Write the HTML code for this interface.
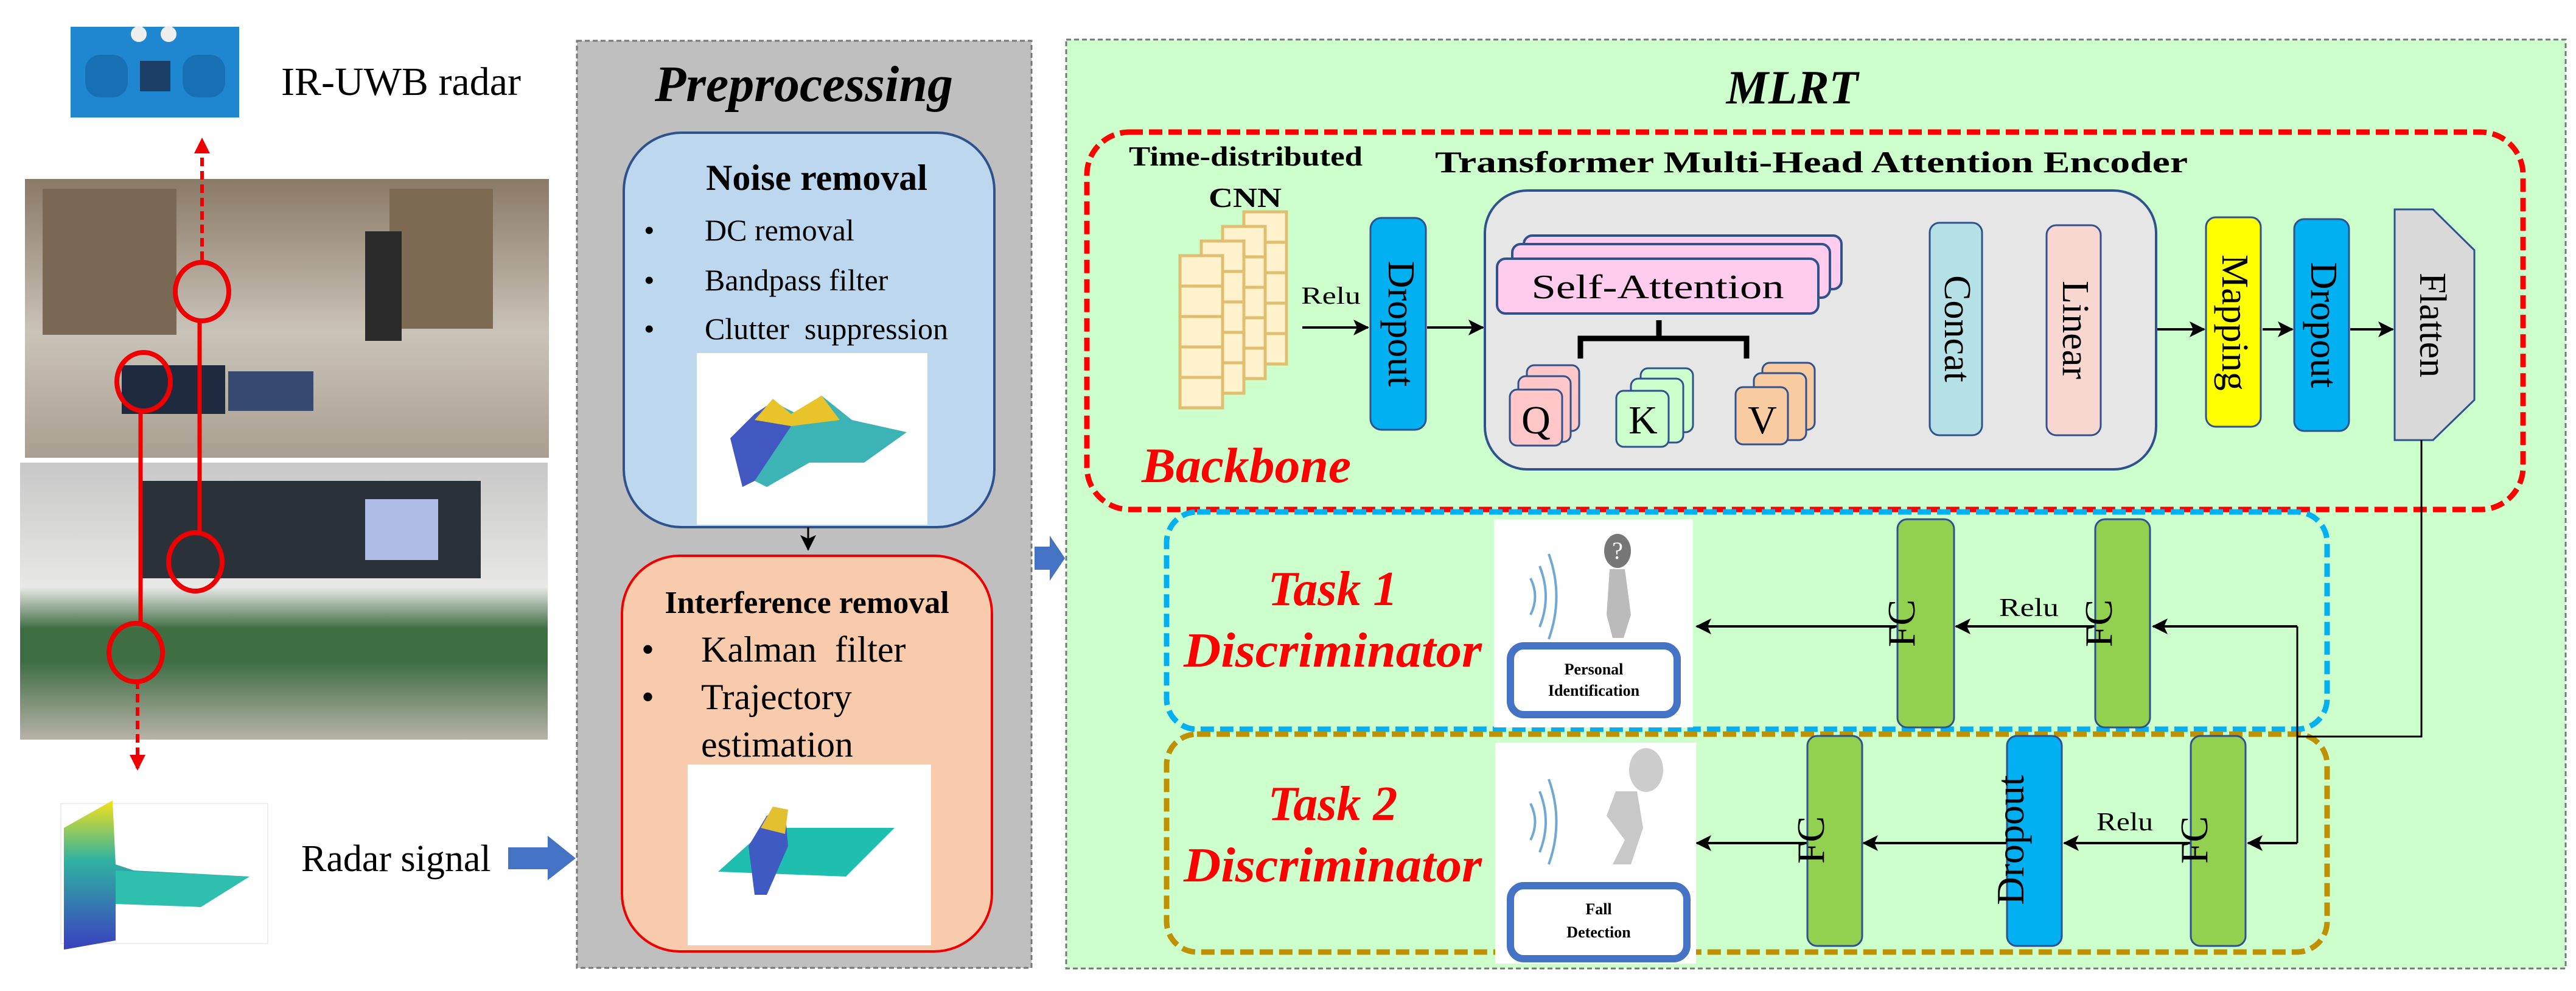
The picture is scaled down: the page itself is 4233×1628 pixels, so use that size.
<!DOCTYPE html>
<html><head><meta charset="utf-8"><style>
html,body{margin:0;padding:0;background:#fff;}
svg{display:block;}
text{font-family:"Liberation Serif",serif;}
</style></head><body>
<svg width="4233" height="1628" viewBox="0 0 4233 1628" xmlns="http://www.w3.org/2000/svg">
<defs>
<marker id="ahb" markerWidth="26" markerHeight="26" refX="24" refY="13" orient="auto" markerUnits="userSpaceOnUse" viewBox="0 0 26 26"><path d="M0,0 L26,13 L0,26 L6,13 z" fill="#000"/></marker>
<marker id="ahr" markerWidth="26" markerHeight="26" refX="22" refY="13" orient="auto" markerUnits="userSpaceOnUse" viewBox="0 0 26 26"><path d="M0,0 L26,13 L0,26 z" fill="#e00"/></marker>
<linearGradient id="ph1" x1="0" y1="0" x2="0" y2="1"><stop offset="0" stop-color="#8a7a66"/><stop offset="0.55" stop-color="#c9c3b8"/><stop offset="1" stop-color="#a89f90"/></linearGradient>
<linearGradient id="ph2" x1="0" y1="0" x2="0" y2="1"><stop offset="0" stop-color="#c8c8c8"/><stop offset="0.45" stop-color="#e8e8e6"/><stop offset="0.6" stop-color="#3f6e43"/><stop offset="0.72" stop-color="#3f6e43"/><stop offset="1" stop-color="#b8b2a8"/></linearGradient>
<linearGradient id="surf" x1="0" y1="0" x2="0" y2="1"><stop offset="0" stop-color="#f5e11a"/><stop offset="0.4" stop-color="#2fb3a0"/><stop offset="1" stop-color="#3b3fc0"/></linearGradient>
</defs>

<rect x="116" y="44" width="277" height="149" fill="#1f87cf"/>
<circle cx="228" cy="56" r="13" fill="#eee"/><circle cx="277" cy="56" r="13" fill="#eee"/>
<rect x="140" y="90" width="70" height="70" rx="25" fill="#1670b3"/><rect x="300" y="90" width="70" height="70" rx="25" fill="#1670b3"/>
<rect x="230" y="100" width="50" height="50" fill="#1b3f66"/>
<text x="462" y="156" font-size="66">IR-UWB radar</text>

<rect x="41" y="294" width="861" height="458" fill="url(#ph1)"/>
<rect x="70" y="310" width="220" height="240" fill="#7a6a55"/>
<rect x="640" y="310" width="170" height="230" fill="#7d6a52"/>
<rect x="200" y="600" width="170" height="80" fill="#1e2a3f"/>
<rect x="375" y="610" width="140" height="65" fill="#364a70"/>
<rect x="600" y="380" width="60" height="180" fill="#2a2a2a"/>
<rect x="33" y="760" width="867" height="455" fill="url(#ph2)"/>
<rect x="230" y="790" width="560" height="160" fill="#2b3138"/>
<rect x="600" y="820" width="120" height="100" fill="#aebbe6"/>

<line x1="332" y1="427" x2="332" y2="230" stroke="#e00" stroke-width="6" stroke-dasharray="14,8" marker-end="url(#ahr)"/>
<line x1="226" y1="1118" x2="226" y2="1262" stroke="#e00" stroke-width="6" stroke-dasharray="14,8" marker-end="url(#ahr)"/>
<line x1="328" y1="525" x2="328" y2="880" stroke="#e00" stroke-width="7"/>
<line x1="231" y1="672" x2="231" y2="1028" stroke="#e00" stroke-width="7"/>
<g fill="none" stroke="#e00" stroke-width="8">
<ellipse cx="332" cy="479" rx="44" ry="48"/><ellipse cx="236" cy="627" rx="44" ry="48"/>
<ellipse cx="321" cy="923" rx="44" ry="48"/><ellipse cx="223" cy="1072" rx="44" ry="48"/></g>

<g stroke="#ddd" stroke-width="1" fill="none"><rect x="100" y="1320" width="340" height="230"/></g>
<polygon points="105,1360 185,1315 190,1420 220,1430 410,1440 330,1490 190,1480 190,1545 105,1560" fill="url(#surf)"/>
<polygon points="190,1430 410,1440 330,1490 190,1485" fill="#2fbfae"/>
<text x="495" y="1431" font-size="62">Radar signal</text>
<polygon points="835,1392 900,1392 900,1373 946,1410 900,1446 900,1428 835,1428" fill="#4472c4"/>

<rect x="948" y="67" width="747" height="1523" fill="#bfbfbf" stroke="#777" stroke-width="3" stroke-dasharray="8,5"/>
<text x="1321" y="166" font-size="84" font-weight="bold" font-style="italic" text-anchor="middle">Preprocessing</text>
<rect x="1025" y="218" width="609" height="648" rx="95" fill="#bdd7ee" stroke="#2f528f" stroke-width="4"/>
<text x="1342" y="312" font-size="60" font-weight="bold" text-anchor="middle">Noise removal</text>
<g font-size="50"><text x="1058" y="395">•</text><text x="1158" y="395">DC removal</text>
<text x="1058" y="477">•</text><text x="1158" y="477">Bandpass filter</text>
<text x="1058" y="557">•</text><text x="1158" y="557">Clutter&#160; suppression</text></g>
<rect x="1145" y="580" width="379" height="282" fill="#fff"/>
<polygon points="1200,720 1230,690 1270,660 1310,680 1350,650 1400,690 1490,710 1420,760 1330,760 1260,800 1220,780" fill="#3cb3b5"/>
<polygon points="1200,720 1240,680 1270,660 1300,700 1240,790 1220,800" fill="#4158c0"/>
<polygon points="1240,690 1270,655 1300,680 1350,650 1380,690 1300,700" fill="#e8c42a"/>
<line x1="1328" y1="866" x2="1328" y2="903" stroke="#000" stroke-width="3" marker-end="url(#ahb)"/>
<rect x="1022" y="913" width="608" height="650" rx="95" fill="#f8cbad" stroke="#e00" stroke-width="4"/>
<text x="1326" y="1007" font-size="52" font-weight="bold" text-anchor="middle">Interference removal</text>
<g font-size="60"><text x="1054" y="1087">•</text><text x="1152" y="1087">Kalman&#160; filter</text>
<text x="1054" y="1165">•</text><text x="1152" y="1165">Trajectory</text>
<text x="1152" y="1243">estimation</text></g>
<rect x="1130" y="1256" width="400" height="297" fill="#fff"/>
<polygon points="1180,1432 1260,1360 1470,1360 1390,1440" fill="#1ebfae"/>
<polygon points="1230,1390 1260,1340 1290,1330 1295,1390 1260,1470 1240,1470" fill="#3f5ac3"/>
<polygon points="1250,1360 1270,1325 1295,1330 1290,1370" fill="#e2c030"/>

<polygon points="1700,898 1725,898 1725,880 1750,917 1725,954 1725,936 1700,936" fill="#4472c4"/>

<rect x="1752" y="65" width="2464" height="1526" fill="#ccffcc" stroke="#777" stroke-width="3" stroke-dasharray="8,5"/>
<text x="2945" y="170" font-size="78" font-weight="bold" font-style="italic" text-anchor="middle">MLRT</text>
<rect x="1786" y="217" width="2360" height="620" rx="70" fill="none" stroke="#f00" stroke-width="9" stroke-dasharray="22,10"/>
<text x="1855" y="272" font-size="46" font-weight="bold" textLength="384" lengthAdjust="spacingAndGlyphs">Time-distributed</text>
<text x="1986" y="340" font-size="46" font-weight="bold" textLength="120" lengthAdjust="spacingAndGlyphs">CNN</text>
<text x="2358" y="283" font-size="50" font-weight="bold" textLength="1237" lengthAdjust="spacingAndGlyphs">Transformer Multi-Head Attention Encoder</text>
<text x="1876" y="792" font-size="82" font-weight="bold" font-style="italic" fill="#f00" textLength="344" lengthAdjust="spacingAndGlyphs">Backbone</text>

<g fill="#fff2cc" stroke="#e0c070" stroke-width="5">
<g transform="translate(105,-72)"><rect x="1939" y="420" width="70" height="50"/><rect x="1939" y="470" width="70" height="50"/><rect x="1939" y="520" width="70" height="50"/><rect x="1939" y="570" width="70" height="50"/><rect x="1939" y="620" width="70" height="50"/></g>
<g transform="translate(70,-48)"><rect x="1939" y="420" width="70" height="50"/><rect x="1939" y="470" width="70" height="50"/><rect x="1939" y="520" width="70" height="50"/><rect x="1939" y="570" width="70" height="50"/><rect x="1939" y="620" width="70" height="50"/></g>
<g transform="translate(35,-24)"><rect x="1939" y="420" width="70" height="50"/><rect x="1939" y="470" width="70" height="50"/><rect x="1939" y="520" width="70" height="50"/><rect x="1939" y="570" width="70" height="50"/><rect x="1939" y="620" width="70" height="50"/></g>
<rect x="1939" y="420" width="70" height="50"/><rect x="1939" y="470" width="70" height="50"/><rect x="1939" y="520" width="70" height="50"/><rect x="1939" y="570" width="70" height="50"/><rect x="1939" y="620" width="70" height="50"/>
</g>
<text x="2138" y="499" font-size="40" textLength="98" lengthAdjust="spacingAndGlyphs">Relu</text>
<g stroke="#000" stroke-width="4" marker-end="url(#ahb)">
<line x1="2140" y1="538" x2="2248" y2="538"/>
<line x1="2345" y1="538" x2="2437" y2="538"/>
<line x1="3043" y1="541" x2="3168" y2="541"/>
<line x1="3260" y1="541" x2="3360" y2="541"/>
<line x1="3543" y1="541" x2="3622" y2="541"/>
<line x1="3718" y1="541" x2="3767" y2="541"/>
<line x1="3862" y1="541" x2="3932" y2="541"/>
</g>
<rect x="2252" y="358" width="91" height="348" rx="18" fill="#00b0f0" stroke="#2f528f" stroke-width="3"/>
<text transform="translate(2282,532) rotate(90)" font-size="62" text-anchor="middle">Dropout</text>

<rect x="2440" y="313" width="1103" height="458" rx="70" fill="#e6e6e6" stroke="#2f528f" stroke-width="4"/>
<g fill="#ffccee" stroke="#2f528f" stroke-width="4">
<rect x="2504" y="387" width="522" height="88" rx="14"/>
<rect x="2485" y="401" width="522" height="88" rx="14"/>
<rect x="2460" y="425" width="528" height="90" rx="14"/></g>
<text x="2724" y="490" font-size="56" text-anchor="middle" textLength="415" lengthAdjust="spacingAndGlyphs">Self-Attention</text>
<path d="M2726,526 V556 M2597,589 V556 H2870 V589" fill="none" stroke="#000" stroke-width="9"/>
<g stroke="#2f528f" stroke-width="3">
<g fill="#ffc7c7"><rect x="2509" y="600" width="86" height="108" rx="12"/><rect x="2495" y="618" width="86" height="108" rx="12"/><rect x="2481" y="640" width="86" height="92" rx="12"/></g>
<g fill="#ccffcc"><rect x="2696" y="605" width="86" height="105" rx="12"/><rect x="2680" y="622" width="86" height="105" rx="12"/><rect x="2656" y="642" width="86" height="92" rx="12"/></g>
<g fill="#f8cba0"><rect x="2896" y="596" width="86" height="110" rx="12"/><rect x="2882" y="613" width="86" height="110" rx="12"/><rect x="2852" y="636" width="86" height="94" rx="12"/></g>
</g>
<g font-size="66"><text x="2524" y="712" text-anchor="middle">Q</text><text x="2700" y="712" text-anchor="middle">K</text><text x="2896" y="712" text-anchor="middle">V</text></g>

<rect x="3171" y="366" width="86" height="349" rx="16" fill="#b4e0e6" stroke="#2f528f" stroke-width="3"/>
<text transform="translate(3196,540) rotate(90)" font-size="62" text-anchor="middle">Concat</text>
<rect x="3363" y="370" width="89" height="345" rx="16" fill="#f8d7d0" stroke="#2f528f" stroke-width="3"/>
<text transform="translate(3390,542) rotate(90)" font-size="62" text-anchor="middle">Linear</text>
<rect x="3625" y="357" width="90" height="344" rx="16" fill="#ffff00" stroke="#2f528f" stroke-width="3"/>
<text transform="translate(3652,530) rotate(90)" font-size="62" text-anchor="middle">Mapping</text>
<rect x="3770" y="360" width="90" height="348" rx="16" fill="#00b0f0" stroke="#2f528f" stroke-width="3"/>
<text transform="translate(3798,534) rotate(90)" font-size="62" text-anchor="middle">Dropout</text>
<polygon points="3935,344 3998,344 4066,411 4066,657 3998,723 3935,723" fill="#d9d9d9" stroke="#2f528f" stroke-width="3"/>
<text transform="translate(3977,534) rotate(90)" font-size="62" text-anchor="middle">Flatten</text>

<rect x="1917" y="841" width="1907" height="357" rx="50" fill="none" stroke="#00b0f0" stroke-width="9" stroke-dasharray="22,10"/>
<rect x="1917" y="1206" width="1907" height="358" rx="50" fill="none" stroke="#bf9000" stroke-width="9" stroke-dasharray="22,10"/>

<polyline points="3979,723 3979,1210 3775,1210" fill="none" stroke="#000" stroke-width="3"/>
<line x1="3775" y1="1029" x2="3775" y2="1385" stroke="#000" stroke-width="3"/>
<g stroke="#000" stroke-width="4" marker-end="url(#ahb)">
<line x1="3775" y1="1029" x2="3538" y2="1029"/>
<line x1="3443" y1="1029" x2="3214" y2="1029"/>
<line x1="3118" y1="1029" x2="2788" y2="1029"/>
<line x1="3775" y1="1385" x2="3694" y2="1385"/>
<line x1="3600" y1="1385" x2="3392" y2="1385"/>
<line x1="3298" y1="1385" x2="3062" y2="1385"/>
<line x1="2970" y1="1385" x2="2788" y2="1385"/>
</g>

<g font-weight="bold" font-style="italic" fill="#f00" text-anchor="middle">
<text x="2190" y="994" font-size="80">Task 1</text>
<text x="2190" y="1095" font-size="80" textLength="490" lengthAdjust="spacingAndGlyphs">Discriminator</text>
<text x="2190" y="1347" font-size="80">Task 2</text>
<text x="2190" y="1448" font-size="80" textLength="490" lengthAdjust="spacingAndGlyphs">Discriminator</text>
</g>

<rect x="2455" y="853" width="327" height="342" fill="#fff"/>
<g fill="none" stroke="#6fa8d6" stroke-width="4"><path d="M2530,930 Q2550,980 2530,1030"/><path d="M2545,910 Q2570,980 2545,1050"/><path d="M2515,950 Q2530,980 2515,1010"/></g>
<ellipse cx="2658" cy="905" rx="22" ry="28" fill="#777"/><text x="2658" y="918" font-size="40" text-anchor="middle" fill="#fff">?</text>
<path d="M2645,935 L2670,935 L2680,1010 L2668,1048 L2650,1048 L2640,1010z" fill="#bbb"/>
<rect x="2482" y="1061" width="274" height="113" rx="22" fill="#fff" stroke="#4472c4" stroke-width="12"/>
<text x="2619" y="1108" font-size="26" font-weight="bold" text-anchor="middle">Personal</text>
<text x="2619" y="1143" font-size="26" font-weight="bold" text-anchor="middle">Identification</text>

<rect x="2457" y="1220" width="330" height="363" fill="#fff"/>
<g fill="none" stroke="#6fa8d6" stroke-width="4"><path d="M2530,1300 Q2550,1350 2530,1400"/><path d="M2545,1280 Q2570,1350 2545,1420"/><path d="M2515,1320 Q2530,1350 2515,1380"/></g>
<ellipse cx="2705" cy="1265" rx="28" ry="36" fill="#ccc"/>
<path d="M2690,1300 L2700,1360 L2680,1420 L2650,1420 L2670,1380 L2640,1340 L2655,1300z" fill="#c8c8c8"/>
<rect x="2482" y="1455" width="290" height="120" rx="22" fill="#fff" stroke="#4472c4" stroke-width="12"/>
<text x="2627" y="1502" font-size="26" font-weight="bold" text-anchor="middle">Fall</text>
<text x="2627" y="1540" font-size="26" font-weight="bold" text-anchor="middle">Detection</text>

<g fill="#92d050" stroke="#2f528f" stroke-width="3">
<rect x="3118" y="853" width="93" height="342" rx="16"/>
<rect x="3443" y="853" width="90" height="342" rx="16"/>
<rect x="2970" y="1209" width="90" height="345" rx="16"/>
<rect x="3600" y="1209" width="90" height="345" rx="16"/>
</g>
<rect x="3298" y="1209" width="90" height="345" rx="16" fill="#00b0f0" stroke="#2f528f" stroke-width="3"/>
<g font-size="64">
<text transform="translate(3146,1024) rotate(-90)" text-anchor="middle">FC</text>
<text transform="translate(3470,1024) rotate(-90)" text-anchor="middle">FC</text>
<text transform="translate(2997,1380) rotate(-90)" text-anchor="middle">FC</text>
<text transform="translate(3627,1380) rotate(-90)" text-anchor="middle">FC</text>
<text transform="translate(3325,1380) rotate(-90)" text-anchor="middle">Dropout</text>
</g>
<text x="3285" y="1012" font-size="42" textLength="98" lengthAdjust="spacingAndGlyphs">Relu</text>
<text x="3445" y="1364" font-size="42" textLength="93" lengthAdjust="spacingAndGlyphs">Relu</text>
</svg>
</body></html>
